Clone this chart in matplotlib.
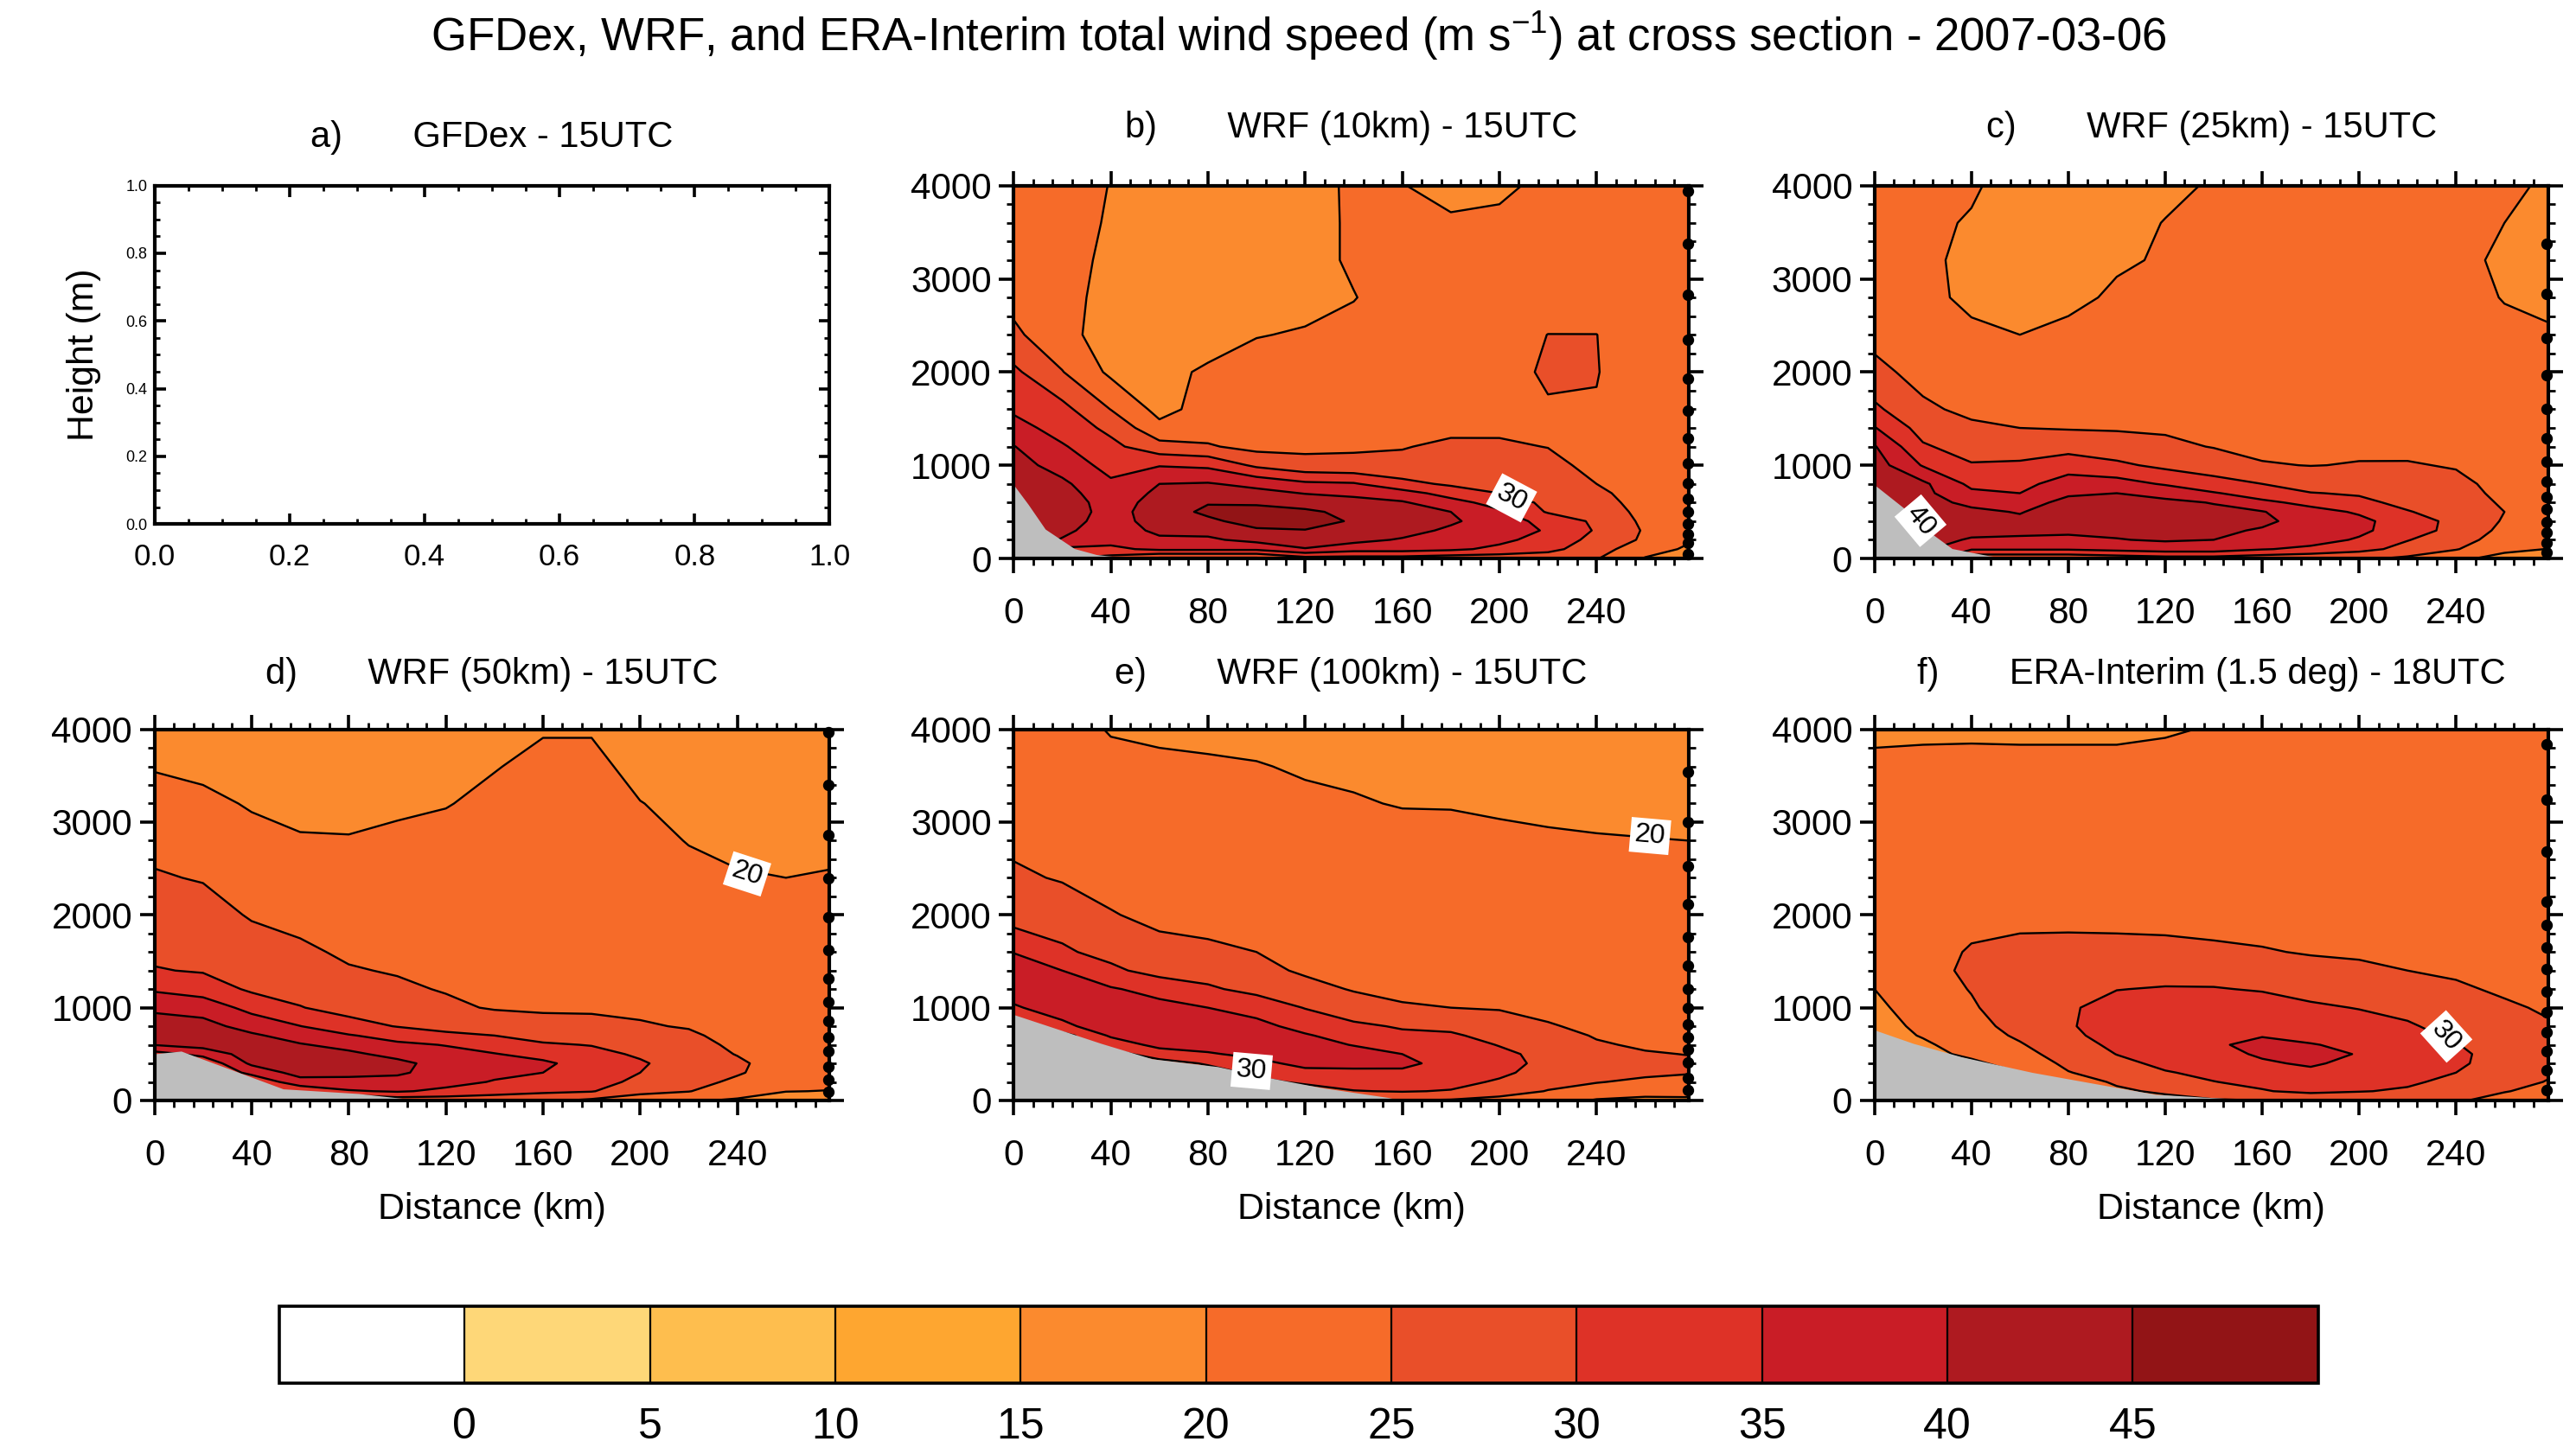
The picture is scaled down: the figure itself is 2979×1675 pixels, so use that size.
import numpy as np
import matplotlib
matplotlib.use('Agg')
import matplotlib.pyplot as plt
from matplotlib.colors import ListedColormap, BoundaryNorm
from matplotlib.cm import ScalarMappable
from matplotlib.ticker import MultipleLocator

plt.rcParams['font.family'] = ['Liberation Sans', 'DejaVu Sans']
plt.rcParams['mathtext.default'] = 'regular'

# wind speed colour classes (m/s)
bounds = [-5, 0, 5, 10, 15, 20, 25, 30, 35, 40, 45, 50]
colors = ['#FFFFFF', '#FED778', '#FEBE4E', '#FEA630', '#FB8A2E', '#F66B29',
          '#E94F29', '#DE3227', '#C91D26', '#AE1A20', '#921416']
line_levels = [20, 25, 30, 35, 40, 45]

distance = [0, 20, 40, 60, 80, 100, 120, 140, 160, 180, 200, 220, 240, 260, 278]
height = [0, 100, 200, 300, 400, 500, 600, 700, 800, 1000, 1200, 1400, 1600,
          2000, 2400, 2800, 3200, 3600, 4000]

# one profile per distance column, bottom to top
wrf10_speed = [
    [43, 43, 43, 43, 43, 43, 43, 43, 43, 42, 40.2, 36.9, 34.2, 31, 26, 23.5, 23, 22, 21.5],
    [30, 34, 39.7, 41, 42, 43, 43, 42, 41, 38, 35.5, 33, 31.5, 25.2, 21.5, 21.3, 21.2, 21, 21],
    [28, 34, 36.5, 37.5, 38, 38, 37.5, 36.8, 35.8, 33.3, 31.3, 28.8, 24.9, 19, 17.9, 18.7, 19.3, 19.75, 19.93],
    [24, 36, 39.2, 41, 42, 42.5, 42, 41, 40, 34.7, 26.8, 21.3, 18.5, 19, 18.5, 18, 18, 18.5, 18.8],
    [24, 36, 39.2, 41.5, 44, 46, 44.7, 42, 40.4, 34, 25.5, 22.7, 21.8, 20.5, 18.5, 18.5, 18.5, 18.5, 18.8],
    [24, 36, 41.5, 44.3, 47, 47, 44.2, 41.5, 38.6, 29, 23.5, 22.8, 22, 21, 19.9, 19, 18.7, 18.7, 18.9],
    [28, 39.7, 42.6, 44.8, 47, 46, 42.7, 39.8, 36, 26.5, 24, 23, 22.3, 21.2, 20.2, 19.3, 19, 19, 19.1],
    [28, 37, 41.5, 43, 44.5, 43.5, 41.5, 39, 35.5, 26, 24.5, 23.7, 23, 21.5, 20.8, 19.9, 20.4, 20.4, 20.4],
    [28, 37, 39.5, 42, 43, 42, 40.5, 37, 31.5, 26, 24.8, 24, 23.5, 22, 21.5, 21.2, 21, 20.8, 20.1],
    [27, 36, 37.8, 39, 40.8, 40, 36.8, 33, 29.2, 27.4, 25.7, 24.2, 23.5, 22.7, 22, 21.8, 21.3, 20.4, 19],
    [27, 33.8, 36.2, 37.5, 37.2, 35.8, 33, 30, 28.5, 27, 25.6, 24.3, 23.8, 24.2, 23, 22, 21.3, 20.5, 19.5],
    [27, 31.5, 33, 34.5, 33.5, 29.5, 28.8, 28.2, 27.6, 26.3, 24.9, 24, 24.8, 25.3, 25.05, 22.5, 21.5, 21, 20.6],
    [25.3, 27, 28.5, 29.5, 29, 28, 27, 26, 25, 23.7, 23, 22.8, 24.7, 25.2, 25.05, 22, 21.5, 21, 20.8],
    [19.7, 22, 24.2, 24.5, 24, 23.5, 23, 22.8, 22.5, 22.2, 22, 22, 22, 22, 22, 21.5, 21.3, 21, 20.8],
    [17, 19.3, 20.5, 21, 21, 21, 21, 21, 21, 21, 21, 21, 21, 21, 21, 21, 21, 21, 21],
]
wrf25_speed = [
    [43, 43, 43, 43, 43, 43, 43, 43, 43, 42.4, 40.4, 35.3, 31, 26.2, 23.7, 21.5, 21, 21, 21],
    [40, 41, 42, 42, 42, 42, 41.7, 41.3, 41, 34.6, 30.6, 28, 25.8, 23.5, 22, 21, 20.7, 20.5, 20.5],
    [26, 35.5, 39.5, 41.5, 41.5, 41, 38.9, 36, 33.8, 30.4, 27.8, 25.8, 24, 22.3, 20.7, 19.2, 19.2, 19.8, 20.3],
    [26, 35.5, 39.3, 41, 41, 39.7, 37, 35, 33.7, 30.7, 27.8, 25, 23.6, 21.7, 20, 18.8, 18.7, 18.8, 19],
    [26, 35.5, 38.8, 41, 42.2, 42.6, 42, 39, 37, 33, 28, 24.7, 23.5, 22, 20.8, 19.2, 18.7, 18.7, 19],
    [27, 36.5, 39.8, 41, 42, 43, 42, 40, 37, 31, 27, 24.6, 23.6, 22.2, 21, 20.5, 19.6, 19, 19],
    [28, 37.5, 40.5, 41.5, 42.5, 42, 41, 38.5, 34.5, 28.8, 26, 24.4, 23.6, 22.5, 21.6, 21, 20.3, 20.1, 19.3],
    [28, 37.5, 40, 41, 41.3, 41, 39.8, 35.4, 31.8, 27.5, 24.8, 24, 23.5, 22.8, 22, 21.5, 21, 20.8, 20.3],
    [27, 35.3, 37.3, 39.5, 41, 40.3, 36, 32.8, 30, 25.3, 24, 23.5, 23.2, 23, 22.5, 22, 21.5, 21.5, 21],
    [26, 34, 36.8, 38, 38, 36.5, 33.8, 30.2, 27.8, 24.9, 24, 23.5, 23.2, 23, 22.5, 22, 21.8, 21.5, 21.3],
    [26, 31.5, 34.5, 36, 36, 34.5, 31.2, 29.5, 28, 25.2, 24.3, 23.6, 23.3, 23, 22.5, 22, 21.8, 21.5, 21.3],
    [24, 28.5, 30.2, 32.5, 33, 30.3, 28.7, 28, 27.2, 25.3, 24, 23.5, 23.2, 22.8, 22.3, 21.8, 21.5, 21.3, 21],
    [21, 25.3, 27.3, 28.3, 28.3, 27.8, 27, 26.5, 26, 24.7, 23.5, 23, 22.8, 22.3, 21.8, 21.5, 21.2, 21, 20.7],
    [18.5, 21, 22.5, 23.8, 24.6, 25, 24.5, 24, 23.7, 23, 22.5, 22.2, 22, 21.5, 21, 19.8, 19.2, 20, 20.6],
    [17, 19.9, 21, 21.5, 21.8, 22, 22, 22, 22, 21.8, 21.7, 21.5, 21.4, 21, 20.4, 19.2, 18.8, 19, 19.6],
]
wrf50_speed = [
    [30, 30, 30, 30, 30, 33, 40.2, 41.5, 42, 39.2, 34.3, 30.3, 29, 27.2, 25.4, 23.8, 21.7, 19.7, 19],
    [30, 30, 30, 30, 31, 36.5, 42, 42.5, 41.8, 37.8, 32.8, 29.6, 28.5, 26.8, 24.7, 22.8, 20.8, 19.2, 18.5],
    [25, 28, 31, 36.3, 41, 42.5, 42, 40.8, 38, 33.5, 29.2, 28, 27, 24.6, 22.6, 21, 19.7, 18.5, 18.5],
    [24, 31, 38, 42, 43.5, 42.8, 40.4, 37.8, 35.1, 30.2, 28.4, 27.1, 25.7, 23.8, 22, 20.3, 19, 18.5, 18.3],
    [24, 34.5, 38.5, 41.3, 43, 41, 38.4, 35.4, 31.8, 28.3, 26.7, 25.3, 24.4, 23.2, 21.8, 20.2, 19, 18.5, 18.3],
    [27, 35.5, 37.7, 41, 41.3, 38.5, 36, 33, 29.8, 27.3, 25.7, 24.7, 24, 23.4, 22.3, 20.7, 19.4, 18.7, 18.3],
    [27, 34, 36.5, 37.2, 38, 36.5, 34.8, 31, 28.5, 25.9, 24.7, 24.2, 23.8, 23.2, 22.5, 21.3, 19.8, 18.8, 18.5],
    [27, 32, 34.7, 36, 36.3, 35.2, 33, 30, 28, 24.6, 24, 23.7, 23.5, 23.2, 22.8, 22.2, 21, 19.8, 18.8],
    [26, 31, 33.5, 35, 35.8, 33.5, 30.6, 28.2, 26.5, 24.4, 24, 23.7, 23.5, 23.2, 23, 22.5, 22, 21, 19.7],
    [24, 30.3, 32, 33, 33, 31.5, 29.8, 27.8, 26, 24.5, 24, 23.7, 23.5, 23.3, 23, 22.5, 21.8, 21, 19.7],
    [22, 26.5, 28.8, 30, 30.6, 29.3, 28.2, 27, 25.4, 24.2, 23.8, 23.5, 23.3, 23, 22.5, 21.5, 20.1, 18.8, 18],
    [20.5, 25.2, 26.8, 27.5, 27.5, 27.2, 26.8, 25.7, 24.7, 23.8, 23.3, 23, 22.7, 22.2, 21.3, 19.8, 19, 18.2, 18],
    [19.5, 21.8, 24, 25.5, 25.8, 24.8, 24, 23.5, 23, 22.5, 22.2, 22, 21.7, 21, 20.4, 18.8, 18.2, 18, 18],
    [18, 20.1, 21.5, 22.5, 22.7, 22.5, 22.3, 22, 21.8, 21.5, 21.3, 21.2, 21, 20.6, 20, 18.7, 18.2, 18, 18],
    [18, 19.9, 20.8, 21, 21, 21, 21, 21, 21, 21, 21, 20.9, 20.8, 20.5, 20.2, 19.3, 18.5, 18, 18],
]
wrf100_speed = [
    [28, 28, 28, 28, 28, 28, 28, 28, 30, 34.5, 37, 36.5, 34.9, 27.5, 25.8, 24, 22.8, 21.8, 21],
    [28, 28, 28, 28, 28, 28, 28, 28, 34, 37, 36.5, 35, 30.7, 27.7, 24.6, 23, 22, 21, 20.6],
    [28, 28, 28, 28, 28, 28, 32, 35.7, 37.3, 37, 35.5, 31, 28.5, 25.3, 23.3, 22.2, 21.2, 20.4, 19.9],
    [28, 28, 28, 28, 28, 32.5, 36.5, 37.5, 37.5, 36.5, 33.3, 28.2, 26.5, 23.8, 22.5, 21.7, 21, 20.5, 19.5],
    [28, 28, 28, 28, 30.5, 34.6, 36.5, 37, 37, 35, 30.7, 28, 25.8, 23.5, 22.2, 21.5, 20.7, 20.5, 19],
    [28, 28, 29, 31, 33.8, 36, 36.7, 36.8, 36.5, 33, 28.6, 26.2, 25, 23.5, 22.3, 21.5, 20.8, 20.2, 18.8],
    [27, 28, 30.7, 33.8, 36.2, 37, 36.7, 35.5, 33.3, 29.8, 26.4, 24.4, 23.7, 23, 22, 21.3, 20.7, 19.6, 18.5],
    [26, 29.8, 32, 34, 36.3, 36.8, 34.8, 32.8, 31, 27, 24.7, 24, 23.5, 22.8, 22, 21.2, 20.3, 19.3, 18.5],
    [25, 30.3, 32, 34.2, 36, 35, 32.8, 31, 29.5, 25.3, 24.3, 23.7, 23.3, 22.8, 22, 21.3, 19.8, 19, 18.5],
    [24.5, 29.7, 31.5, 33, 33.5, 33, 32, 30.6, 29, 25, 24, 23.5, 23, 22.5, 21.8, 21, 19.8, 19, 18.5],
    [23.5, 27, 29.4, 31, 31.3, 31, 29.8, 28.5, 27, 24.7, 23.7, 23.2, 22.8, 22.2, 21.5, 20.7, 19.5, 18.8, 18.3],
    [22.5, 24.8, 26.3, 28, 29, 28.7, 27.5, 26.5, 25.3, 24, 23.3, 22.8, 22.4, 21.8, 21.2, 20.4, 19.3, 18.7, 18.3],
    [19.5, 23.2, 25.2, 26, 26.5, 26, 25.4, 24.7, 24.2, 23.5, 22.8, 22.4, 22, 21.5, 21, 20.2, 19.2, 18.7, 18.3],
    [19, 21.5, 24.2, 25.8, 26, 25.3, 24.5, 24, 23.6, 23, 22.5, 22, 21.7, 21.2, 20.7, 20.1, 19, 18.7, 18.3],
    [19, 21.8, 24, 25.2, 25.6, 24.9, 24.3, 23.8, 23.4, 22.8, 22.3, 22, 21.6, 21, 20.6, 20, 19, 18.5, 18.3],
]
era_speed = [
    [18, 18, 18, 18, 18, 18, 18, 18, 18.5, 19.2, 20, 20.5, 21, 21.5, 21.5, 21.3, 21, 20.5, 19.5],
    [18, 18, 18, 18, 18, 18.5, 19.3, 20.3, 20.8, 21.7, 23, 23.9, 23.7, 23.3, 22.8, 22.2, 21.5, 20.7, 19.5],
    [18, 18, 18, 18, 19, 21, 22, 22.8, 23.5, 24.5, 25.2, 25.6, 25.3, 24, 23.2, 22.5, 21.8, 20.8, 19.5],
    [20, 20, 20, 20, 22, 23.5, 24.6, 25.7, 26.5, 27.5, 27.7, 27, 26, 24, 23.3, 22.6, 21.9, 20.7, 19.5],
    [20, 20, 22, 24.8, 26, 27, 28, 29, 29.5, 29.5, 28.7, 27.7, 26, 24.1, 23.3, 22.6, 21.8, 20.7, 19.5],
    [22, 24, 25.8, 27, 28.8, 30.1, 31, 31.8, 32.4, 31.5, 29.9, 28.3, 26, 24, 23.4, 22.6, 21.8, 20.7, 19.5],
    [23, 26, 28.3, 29.7, 31, 32, 33, 33.5, 33.5, 32.5, 30.3, 28.3, 25.9, 23.9, 23.2, 22.6, 21.9, 21, 19.7],
    [24.5, 28, 29.9, 31, 32, 33.5, 34.5, 34.3, 34, 33, 30.3, 27.8, 25.5, 23.9, 23.2, 22.6, 22, 21.2, 20.2],
    [25, 29.7, 31, 32.5, 34.4, 35.6, 36, 34.8, 33.8, 32.5, 29.6, 27.2, 25.2, 23.8, 23.2, 22.6, 22.2, 21.6, 21],
    [26, 31, 32.5, 34, 35.6, 36.2, 35.2, 34, 32.7, 30.8, 28.3, 25.9, 24.8, 23.7, 23.2, 22.6, 22.2, 21.8, 21.3],
    [26.5, 30.2, 31.5, 32.5, 33.7, 34.8, 34.2, 33, 32, 29.8, 27.2, 25.7, 24.5, 23.6, 23.2, 22.7, 22.3, 21.9, 21.4],
    [26.5, 29.5, 30.6, 31.2, 32, 32.5, 32, 31.3, 30.5, 28.8, 26.5, 25, 24, 23.4, 23, 22.7, 22.3, 22, 21.5],
    [25.5, 27.5, 29, 30, 30.8, 31, 30.2, 29.3, 28.5, 27, 25.6, 24.4, 23.7, 23.2, 22.8, 22.5, 22.2, 22, 21.5],
    [23.5, 25.2, 26.5, 27.5, 28, 28, 27.8, 27.3, 26.8, 25.6, 24.4, 23.7, 23.2, 22.8, 22.5, 22.2, 22, 21.8, 21.5],
    [22.5, 23.8, 24.8, 25.5, 26, 26.3, 26, 25.8, 25.4, 24.5, 23.7, 23.2, 22.9, 22.5, 22.2, 22, 21.8, 21.6, 21.4],
]

# ground below the section (km, m)
wrf10_terrain = [[0, 6, 13, 25, 34, 45, 60], [790, 580, 315, 106, 42, 10, 0]]
wrf25_terrain = [[0, 12, 23, 32, 47, 55], [790, 543, 277, 106, 30, 0]]
wrf50_terrain = [[0, 11, 53, 84, 106, 112], [503, 532, 125, 75, 12, 0]]
wrf100_terrain = [[0, 36, 57, 84, 106, 127, 154, 160], [926, 615, 449, 365, 241, 137, 33, 0]]
era_terrain = [[0, 16, 36, 65, 96, 116, 152, 158], [760, 615, 470, 303, 158, 66, 12, 0]]

# model levels squeezed together on the right edge (m)
wrf10_edge = [3945, 3375, 2825, 2350, 1930, 1590, 1285, 1018, 810, 640, 505, 372, 258, 163, 50]
wrf25_edge = [3375, 2840, 2365, 1970, 1600, 1290, 1037, 828, 657, 524, 391, 277, 163, 68]
wrf50_edge = [3970, 3398, 2858, 2392, 1977, 1620, 1313, 1063, 856, 677, 532, 366, 220, 95]
wrf100_edge = [3540, 3003, 2525, 2110, 1757, 1454, 1205, 997, 822, 677, 552, 407, 241, 116]
era_edge = [3842, 3244, 2679, 2143, 1894, 1645, 1412, 1175, 947, 739, 532, 324, 116]

# contour labels: text, km, m, rotation
wrf10_labels = [('30', 205, 650, -28)]
wrf25_labels = [('40', 19, 405, -50)]
wrf50_labels = [('20', 244, 2442, -18)]
wrf100_labels = [('20', 262, 2850, -5), ('30', 98, 318, -5)]
era_labels = [('30', 236, 690, -48)]

W, H = 2979, 1675
SCALE = 1568.0
H_SCALE = H / 1.9


def place(x0, y0, x1, y1):
    return [x0 / SCALE, 1 - y1 / H_SCALE, (x1 - x0) / SCALE, (y1 - y0) / H_SCALE]


def panel_title(ax, txt, pad):
    ax.annotate(txt, xy=(0.5, 1), xycoords='axes fraction', xytext=(0, pad),
                textcoords='offset points', ha='center', va='baseline', fontsize=15)


cmap = ListedColormap(colors)
norm = BoundaryNorm(bounds, cmap.N)

fig = plt.figure(figsize=(W / 200, H / 200), dpi=200)

fig.text(790.5 / SCALE, 1 - 22 / H_SCALE,
         'GFDex, WRF, and ERA-Interim total wind speed (m s$^{-1}$) at cross section - 2007-03-06',
         ha='center', va='center', fontsize=19)

# empty observation panel
ax = fig.add_axes(place(94, 113, 505, 319))
ax.set_xlim(0, 1)
ax.set_ylim(0, 1)
ax.xaxis.set_major_locator(MultipleLocator(0.2))
ax.xaxis.set_minor_locator(MultipleLocator(0.05))
ax.yaxis.set_major_locator(MultipleLocator(0.2))
ax.yaxis.set_minor_locator(MultipleLocator(0.05))
ax.tick_params(which='major', direction='in', top=True, right=True, length=4.5, width=1.3)
ax.tick_params(which='minor', direction='in', top=True, right=True, length=2.3, width=1)
ax.tick_params(axis='x', which='major', labelsize=12.5, pad=8)
ax.tick_params(axis='y', which='major', labelsize=6.5, pad=3)
ax.set_ylabel('Height (m)', fontsize=15.4, labelpad=10)
for s in ax.spines.values():
    s.set_linewidth(1.5)
panel_title(ax, 'a)       GFDex - 15UTC', 16)

panels = [
    ((617, 113, 1028, 340), 'b)       WRF (10km) - 15UTC', 20, wrf10_speed, wrf10_terrain, wrf10_edge, wrf10_labels, False),
    ((1141, 113, 1551, 340), 'c)       WRF (25km) - 15UTC', 20, wrf25_speed, wrf25_terrain, wrf25_edge, wrf25_labels, False),
    ((94, 444, 505, 670), 'd)       WRF (50km) - 15UTC', 19, wrf50_speed, wrf50_terrain, wrf50_edge, wrf50_labels, True),
    ((617, 444, 1028, 670), 'e)       WRF (100km) - 15UTC', 19, wrf100_speed, wrf100_terrain, wrf100_edge, wrf100_labels, True),
    ((1141, 444, 1551, 670), 'f)       ERA-Interim (1.5 deg) - 18UTC', 19, era_speed, era_terrain, era_edge, era_labels, True),
]

for box, title, pad, speed, terrain, edge, labels, show_xlabel in panels:
    ax = fig.add_axes(place(*box))
    z = np.array(speed).T
    ax.contourf(distance, height, z, levels=bounds, cmap=cmap, norm=norm, zorder=1)
    ax.contour(distance, height, z, levels=line_levels, colors='k', linewidths=0.85, zorder=2)
    ax.fill_between(terrain[0], terrain[1], 0, color='#BEBEBE', lw=0, zorder=3)
    ax.plot([277.5] * len(edge), edge, 'o', color='k', ms=3.8, clip_on=False, zorder=4)
    for txt, d, h, rot in labels:
        ax.text(d, h, txt, rotation=rot, ha='center', va='center', fontsize=11.5, zorder=6,
                bbox=dict(fc='white', ec='none', pad=1.8))
    ax.set_xlim(0, 278)
    ax.set_ylim(0, 4000)
    ax.xaxis.set_major_locator(MultipleLocator(40))
    ax.xaxis.set_minor_locator(MultipleLocator(8))
    ax.yaxis.set_major_locator(MultipleLocator(1000))
    ax.yaxis.set_minor_locator(MultipleLocator(200))
    ax.tick_params(which='major', direction='out', top=True, right=True, length=6.2, width=1.3)
    ax.tick_params(which='minor', direction='out', top=True, right=True, length=3, width=1)
    ax.tick_params(axis='x', which='major', labelsize=15.2, pad=9.5)
    ax.tick_params(axis='y', which='major', labelsize=15.2, pad=3)
    for s in ax.spines.values():
        s.set_linewidth(1.5)
        s.set_zorder(5)
    if show_xlabel:
        ax.set_xlabel('Distance (km)', fontsize=15.4, labelpad=8)
    panel_title(ax, title, pad)

# colour bar
cax = fig.add_axes(place(170, 795, 1411, 842))
cb = fig.colorbar(ScalarMappable(norm=norm, cmap=cmap), cax=cax, orientation='horizontal',
                  spacing='proportional', drawedges=True, ticks=bounds[1:-1])
cb.minorticks_off()
cb.dividers.set_color('k')
cb.dividers.set_linewidth(0.8)
cb.outline.set_linewidth(1.3)
cb.set_ticklabels([str(b) for b in bounds[1:-1]])
cax.tick_params(length=0, labelsize=18, pad=10)

fig.savefig('out.png', dpi=200)
